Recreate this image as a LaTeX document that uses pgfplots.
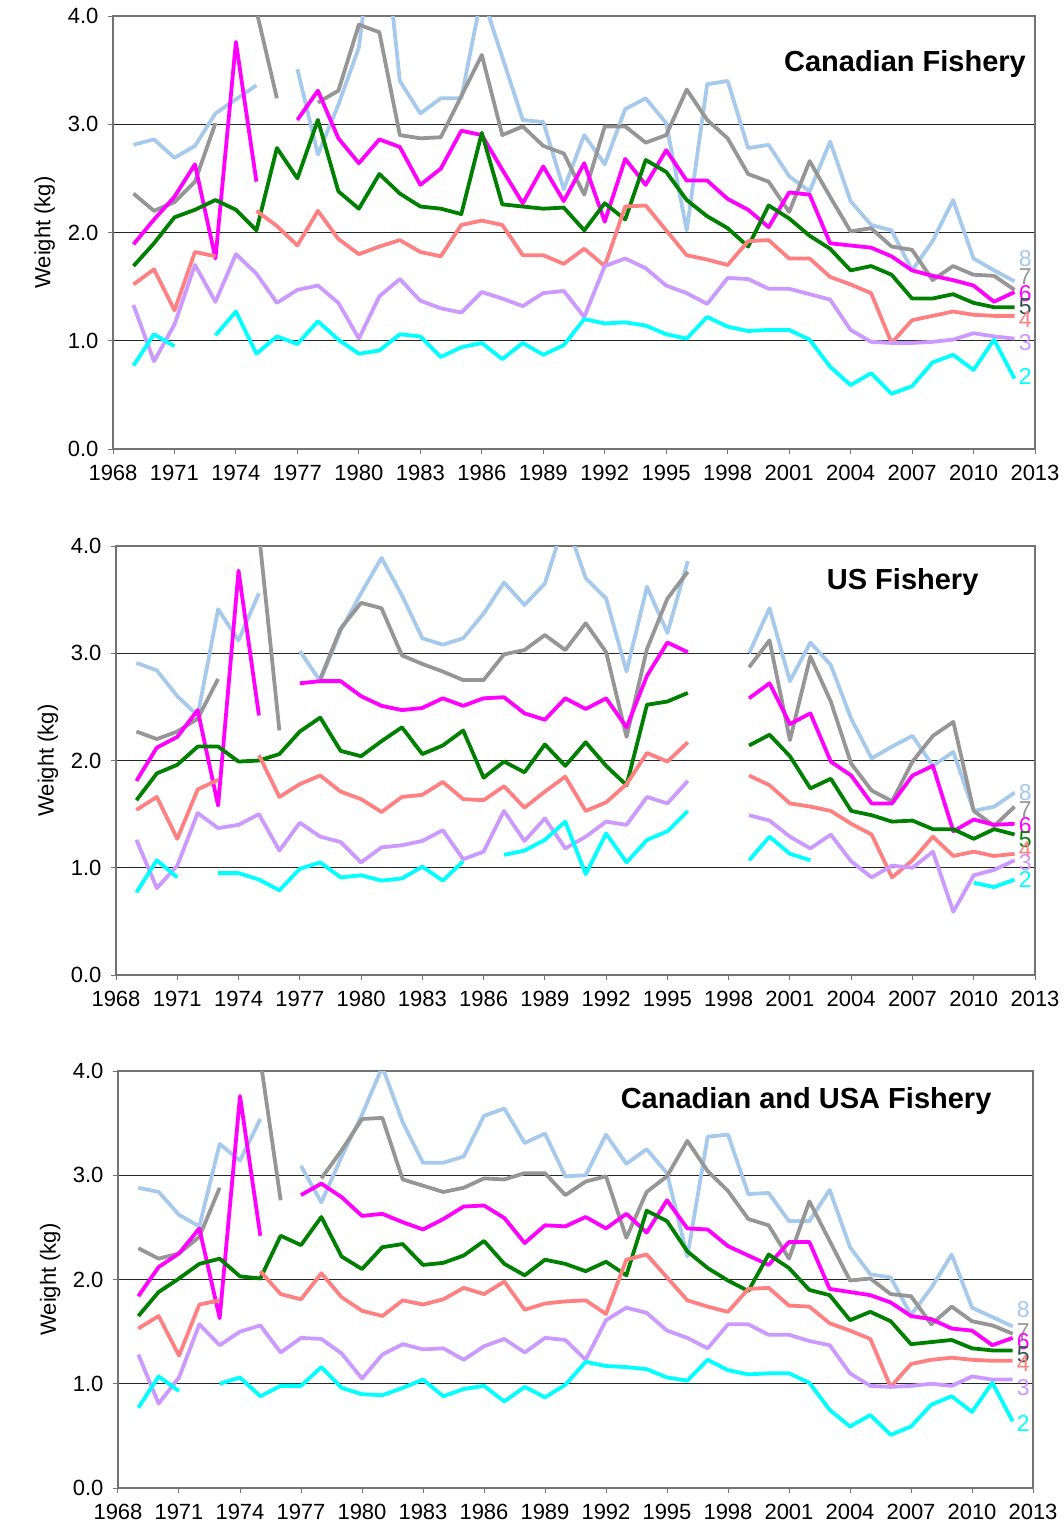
\documentclass[border=0pt]{standalone}
\usepackage{pgfplots}
\usepackage{pgfplotstable}
\usepackage{fontspec}
\setmainfont{Liberation Sans}
\pgfplotsset{compat=1.18}

\definecolor{cA}{RGB}{0,255,255}
\definecolor{cB}{RGB}{204,153,255}
\definecolor{cC}{RGB}{255,128,128}
\definecolor{cD}{RGB}{0,128,0}
\definecolor{cE}{RGB}{255,0,255}
\definecolor{cF}{RGB}{150,150,150}
\definecolor{cG}{RGB}{166,202,236}
\definecolor{cL}{RGB}{47,79,79}

\pgfplotstableread{
yr a2 a3 a4 a5 a6 a7 a8
1969 0.77 1.33 1.52 1.69 1.89 2.36 2.81
1970 1.06 0.81 1.66 1.90 2.12 2.20 2.86
1971 0.95 1.15 1.28 2.14 2.33 2.28 2.69
1972 nan 1.70 1.82 2.21 2.63 2.47 2.80
1973 1.05 1.36 1.78 2.30 1.76 3.01 3.10
1974 1.27 1.80 nan 2.21 3.76 nan 3.23
1975 0.88 1.62 2.20 2.02 2.47 4.05 3.36
1976 1.04 1.35 2.06 2.78 nan 3.24 nan
1977 0.97 1.47 1.88 2.50 3.04 nan 3.51
1978 1.18 1.51 2.20 3.04 3.31 3.20 2.72
1979 1.01 1.35 1.94 2.38 2.87 3.31 3.18
1980 0.88 1.02 1.80 2.22 2.64 3.92 3.71
1981 0.91 1.41 1.87 2.54 2.86 3.85 5.20
1982 1.06 1.57 1.93 2.36 2.79 2.90 3.40
1983 1.04 1.37 1.82 2.24 2.44 2.87 3.10
1984 0.85 1.30 1.78 2.22 2.59 2.88 3.24
1985 0.94 1.26 2.07 2.17 2.94 3.26 3.24
1986 0.98 1.45 2.11 2.92 2.90 3.64 4.20
1987 0.83 1.39 2.07 2.26 2.58 2.90 3.62
1988 0.98 1.32 1.79 2.24 2.27 2.98 3.04
1989 0.87 1.44 1.79 2.22 2.61 2.80 3.02
1990 0.96 1.46 1.71 2.23 2.29 2.73 2.40
1991 1.20 1.22 1.85 2.02 2.64 2.35 2.90
1992 1.16 1.69 1.69 2.27 2.10 2.98 2.63
1993 1.17 1.76 2.24 2.12 2.68 2.98 3.14
1994 1.14 1.67 2.25 2.67 2.44 2.83 3.24
1995 1.06 1.51 2.02 2.56 2.76 2.90 3.01
1996 1.02 1.44 1.79 2.30 2.48 3.32 2.02
1997 1.22 1.34 1.75 2.15 2.48 3.04 3.37
1998 1.13 1.58 1.70 2.04 2.31 2.87 3.40
1999 1.09 1.57 1.92 1.87 2.21 2.54 2.78
2000 1.10 1.48 1.93 2.25 2.05 2.47 2.81
2001 1.10 1.48 1.76 2.13 2.37 2.19 2.52
2002 1.01 1.43 1.76 1.97 2.35 2.66 2.38
2003 0.76 1.38 1.59 1.85 1.90 2.33 2.84
2004 0.59 1.10 1.52 1.65 1.88 2.01 2.29
2005 0.70 0.99 1.44 1.69 1.86 2.04 2.07
2006 0.51 0.98 0.98 1.61 1.78 1.87 2.02
2007 0.58 0.98 1.19 1.39 1.65 1.84 1.65
2008 0.80 0.99 1.23 1.39 1.60 1.56 1.92
2009 0.87 1.01 1.27 1.43 1.56 1.69 2.30
2010 0.73 1.07 1.24 1.35 1.51 1.61 1.76
2011 1.01 1.04 1.23 1.31 1.36 1.60 1.65
2012 0.65 1.02 1.23 1.31 1.45 1.47 1.55
}\tcan

\pgfplotstableread{
yr a2 a3 a4 a5 a6 a7 a8
1969 0.77 1.26 1.54 1.63 1.81 2.27 2.91
1970 1.07 0.81 1.66 1.88 2.12 2.20 2.84
1971 0.91 1.02 1.27 1.96 2.22 2.27 2.60
1972 nan 1.51 1.73 2.13 2.47 2.39 2.42
1973 0.95 1.37 1.82 2.13 1.58 2.76 3.41
1974 0.95 1.40 nan 1.99 3.77 nan 3.12
1975 0.89 1.50 2.05 2.00 2.42 4.12 3.56
1976 0.79 1.16 1.66 2.06 nan 2.28 nan
1977 0.99 1.42 1.78 2.27 2.72 nan 3.02
1978 1.05 1.29 1.86 2.40 2.74 2.76 2.74
1979 0.91 1.24 1.71 2.09 2.74 3.23 3.21
1980 0.93 1.05 1.64 2.04 2.60 3.47 3.56
1981 0.88 1.19 1.52 2.18 2.51 3.42 3.89
1982 0.90 1.21 1.66 2.31 2.47 2.98 3.54
1983 1.01 1.25 1.68 2.06 2.49 2.90 3.14
1984 0.88 1.35 1.80 2.14 2.58 2.83 3.08
1985 1.06 1.08 1.64 2.28 2.51 2.75 3.14
1986 nan 1.15 1.63 1.84 2.58 2.75 3.37
1987 1.12 1.53 1.76 1.99 2.59 2.99 3.66
1988 1.16 1.25 1.56 1.89 2.44 3.03 3.45
1989 1.26 1.46 1.71 2.15 2.38 3.17 3.65
1990 1.43 1.18 1.85 1.95 2.58 3.03 4.25
1991 0.94 1.29 1.53 2.17 2.48 3.28 3.70
1992 1.32 1.43 1.61 1.95 2.58 3.01 3.51
1993 1.05 1.40 1.78 1.77 2.31 2.22 2.83
1994 1.26 1.66 2.07 2.52 2.79 3.04 3.62
1995 1.34 1.60 1.99 2.55 3.10 3.51 3.19
1996 1.53 1.81 2.17 2.63 3.01 3.76 3.86
1997 nan nan nan nan nan nan nan
1998 nan nan nan nan nan nan nan
1999 1.07 1.49 1.86 2.14 2.58 2.87 3.00
2000 1.29 1.44 1.77 2.24 2.72 3.12 3.42
2001 1.13 1.29 1.60 2.04 2.34 2.19 2.74
2002 1.07 1.18 1.57 1.74 2.44 2.97 3.10
2003 nan 1.31 1.53 1.83 1.99 2.55 2.89
2004 nan 1.06 1.41 1.53 1.86 1.97 2.39
2005 0.97 0.91 1.31 1.49 1.60 1.72 2.02
2006 nan 1.02 0.91 1.43 1.60 1.62 2.13
2007 nan 1.00 1.07 1.44 1.86 1.99 2.23
2008 nan 1.15 1.29 1.36 1.95 2.23 1.95
2009 nan 0.59 1.11 1.36 1.34 2.36 2.08
2010 0.86 0.93 1.15 1.27 1.45 1.53 1.53
2011 0.82 0.98 1.11 1.36 1.40 1.39 1.57
2012 0.89 1.07 1.13 1.31 1.41 1.57 1.70
}\tus

\pgfplotstableread{
yr a2 a3 a4 a5 a6 a7 a8
1969 0.77 1.28 1.53 1.65 1.84 2.30 2.88
1970 1.07 0.81 1.65 1.88 2.12 2.20 2.84
1971 0.93 1.06 1.27 2.01 2.25 2.25 2.62
1972 nan 1.57 1.76 2.15 2.49 2.41 2.51
1973 1.00 1.37 1.80 2.20 1.63 2.88 3.30
1974 1.06 1.50 nan 2.03 3.76 nan 3.14
1975 0.88 1.56 2.08 2.01 2.42 4.11 3.54
1976 0.98 1.30 1.86 2.42 nan 2.76 nan
1977 0.98 1.44 1.81 2.33 2.81 nan 3.09
1978 1.16 1.43 2.06 2.60 2.92 2.97 2.74
1979 0.96 1.29 1.83 2.22 2.79 3.24 3.18
1980 0.90 1.05 1.70 2.10 2.61 3.54 3.58
1981 0.89 1.28 1.65 2.31 2.63 3.55 4.04
1982 0.96 1.38 1.80 2.34 2.55 2.96 3.51
1983 1.04 1.33 1.76 2.14 2.48 2.90 3.12
1984 0.88 1.34 1.81 2.16 2.58 2.84 3.12
1985 0.95 1.23 1.92 2.23 2.70 2.88 3.18
1986 0.98 1.36 1.86 2.37 2.71 2.97 3.57
1987 0.83 1.43 1.98 2.15 2.59 2.96 3.64
1988 0.97 1.30 1.71 2.04 2.35 3.02 3.31
1989 0.87 1.44 1.77 2.19 2.52 3.02 3.40
1990 0.99 1.42 1.79 2.15 2.51 2.81 2.99
1991 1.21 1.23 1.80 2.08 2.60 2.94 3.00
1992 1.17 1.61 1.67 2.17 2.49 2.99 3.39
1993 1.16 1.73 2.19 2.04 2.63 2.40 3.11
1994 1.14 1.68 2.24 2.66 2.45 2.84 3.25
1995 1.06 1.51 2.02 2.56 2.76 2.99 3.02
1996 1.03 1.44 1.80 2.27 2.49 3.33 2.22
1997 1.23 1.34 1.74 2.11 2.48 3.04 3.37
1998 1.13 1.57 1.69 1.99 2.32 2.85 3.39
1999 1.09 1.57 1.91 1.89 2.23 2.58 2.82
2000 1.10 1.47 1.92 2.24 2.14 2.52 2.83
2001 1.10 1.47 1.75 2.11 2.36 2.20 2.56
2002 1.01 1.41 1.74 1.90 2.36 2.75 2.56
2003 0.75 1.37 1.58 1.85 1.91 2.37 2.86
2004 0.59 1.10 1.51 1.61 1.88 1.99 2.31
2005 0.70 0.98 1.43 1.69 1.85 2.01 2.05
2006 0.51 0.97 0.97 1.60 1.78 1.86 2.02
2007 0.59 0.98 1.19 1.38 1.65 1.84 1.66
2008 0.80 1.00 1.23 1.40 1.62 1.57 1.92
2009 0.88 0.98 1.25 1.42 1.53 1.74 2.24
2010 0.73 1.07 1.23 1.34 1.51 1.60 1.73
2011 1.01 1.04 1.22 1.32 1.37 1.56 1.64
2012 0.64 1.04 1.22 1.32 1.44 1.48 1.55
}\tboth

\tikzset{lab/.style={anchor=west, inner sep=0pt, font=\fontsize{23}{27}\selectfont}}

\pgfplotsset{
  panel/.style={
    scale only axis,
    xmin=1968, xmax=2013, ymin=0, ymax=4,
    xtick={1968,1971,...,2013}, ytick={0,1,2,3,4},
    x tick label style={/pgf/number format/1000 sep={}, /tikz/yshift=-8pt},
    y tick label style={/pgf/number format/fixed, /pgf/number format/fixed zerofill, /pgf/number format/precision=1, /tikz/xshift=-6pt},
    /pgf/number format/assume math mode=true,
    tick label style={font=\fontsize{22}{26}\selectfont, text=black},
    ymajorgrids, grid style={black!85, line width=1pt},
    axis line style={black!55, line width=1.2pt},
    tick style={black!55, line width=1pt},
    tick align=outside, major tick length=5pt, tick pos=left,
    unbounded coords=jump, clip mode=individual,
    every axis y label/.style={at={(axis description cs:-0.074,0.5)}, rotate=90, anchor=center},
    ylabel style={font=\fontsize{22}{26}\selectfont},
    ylabel={Weight (kg)},
    every axis plot/.append style={line width=3.8pt, line join=round, no markers},
  },
}

\newcommand{\series}[1]{%
  \addplot[cG] table[x=yr,y=a8] {#1};
  \addplot[cF] table[x=yr,y=a7] {#1};
  \addplot[cE] table[x=yr,y=a6] {#1};
  \addplot[cD] table[x=yr,y=a5] {#1};
  \addplot[cC] table[x=yr,y=a4] {#1};
  \addplot[cB] table[x=yr,y=a3] {#1};
}

\begin{document}
\begin{tikzpicture}
\useasboundingbox (0pt,0pt) rectangle (1063pt,-1523pt);

% Panel 1
\begin{axis}[panel, at={(113pt,-449pt)}, anchor=south west, width=922pt, height=433pt]
\series{\tcan}
\addplot[cA] table[x=yr,y=a2] {\tcan};
\node[font=\bfseries\fontsize{29}{32}\selectfont] at (rel axis cs:0.859,0.889) {Canadian Fishery};
\node[lab,text=cG] at (axis cs:2012.2,1.76) {8};
\node[lab,text=cF] at (axis cs:2012.2,1.59) {7};
\node[lab,text=cE] at (axis cs:2012.2,1.44) {6};
\node[lab,text=cL] at (axis cs:2012.2,1.31) {5};
\node[lab,text=cC] at (axis cs:2012.2,1.20) {4};
\node[lab,text=cB] at (axis cs:2012.2,0.98) {3};
\node[lab,text=cA] at (axis cs:2012.2,0.67) {2};
\end{axis}

% Panel 2
\begin{axis}[panel, at={(116pt,-975pt)}, anchor=south west, width=919pt, height=429pt]
\series{\tus}
\addplot[cA, mark=-, mark size=4pt, mark options={line width=2pt}] table[x=yr,y=a2] {\tus};
\node[font=\bfseries\fontsize{29}{32}\selectfont] at (rel axis cs:0.856,0.916) {US Fishery};
\node[lab,text=cG] at (axis cs:2012.2,1.70) {8};
\node[lab,text=cF] at (axis cs:2012.2,1.54) {7};
\node[lab,text=cE] at (axis cs:2012.2,1.39) {6};
\node[lab,text=cD] at (axis cs:2012.2,1.26) {5};
\node[lab,text=cC] at (axis cs:2012.2,1.17) {4};
\node[lab,text=cB] at (axis cs:2012.2,1.05) {3};
\node[lab,text=cA] at (axis cs:2012.2,0.89) {2};
\end{axis}

% Panel 3
\begin{axis}[panel, at={(118pt,-1488pt)}, anchor=south west, width=915pt, height=417pt]
\series{\tboth}
\addplot[cA] table[x=yr,y=a2] {\tboth};
\node[font=\bfseries\fontsize{29}{32}\selectfont] at (rel axis cs:0.752,0.928) {Canadian and USA Fishery};
\node[lab,text=cG] at (axis cs:2012.2,1.71) {8};
\node[lab,text=cF] at (axis cs:2012.2,1.50) {7};
\node[lab,text=cE] at (axis cs:2012.2,1.40) {6};
\node[lab,text=cL] at (axis cs:2012.2,1.28) {5};
\node[lab,text=cC] at (axis cs:2012.2,1.19) {4};
\node[lab,text=cB] at (axis cs:2012.2,0.96) {3};
\node[lab,text=cA] at (axis cs:2012.2,0.62) {2};
\end{axis}
\end{tikzpicture}
\end{document}
